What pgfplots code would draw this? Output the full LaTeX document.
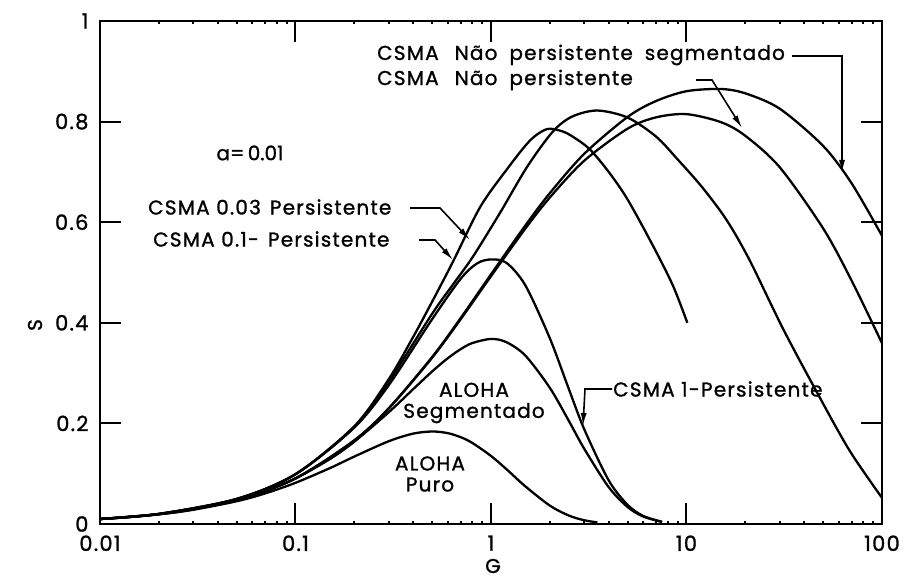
\documentclass[border=0pt]{standalone}
\usepackage{fontspec}
\setmainfont{Poppins}[LetterSpace=6, FakeBold=1.2]
\usepackage{pgfplots}
\pgfplotsset{compat=1.18}
\usetikzlibrary{arrows.meta}

\begin{document}
\begin{tikzpicture}[font=\fontsize{20}{24}\selectfont]
\useasboundingbox (-100pt,-56pt) rectangle (804pt,524pt);
\begin{axis}[
  scale only axis, width=782pt, height=503pt,
  at={(0pt,0pt)}, anchor=south west,
  xmode=log, xmin=0.01, xmax=100, ymin=0, ymax=1,
  xtick={0.01,0.1,1,10,100}, xticklabels={0.01,0.1,1,10,100},
  minor xtick={},
  ytick={0,0.2,0.4,0.6,0.8,1}, yticklabels={0,0.2,0.4,0.6,0.8,1},
  xtick pos=both, ytick pos=both,
  xticklabel pos=bottom, yticklabel pos=left,
  tick align=inside, major tick length=21pt,
  tick style={black, line width=2pt},
  axis line style={line width=2.6pt},
  /pgf/number format/assume math mode=true,
  ticklabel style={font=\fontsize{21}{24}\selectfont},
  xticklabel style={yshift=-8pt},
  yticklabel style={xshift=-8pt},
]
\pgfplotsset{cv/.style={black, line width=2.3pt, smooth, no markers}}
% ALOHA puro
\addplot[cv] coordinates {(0.01,0.0098)(0.02,0.0192)(0.03,0.0283)(0.05,0.0452)(0.07,0.0608)(0.1,0.0819)(0.15,0.1111)(0.2,0.1341)(0.3,0.1646)(0.4,0.1797)(0.5,0.1839)(0.6,0.1807)(0.7,0.1726)(0.8,0.1615)(1.0,0.1353)(1.2,0.1089)(1.5,0.0747)(2.0,0.0366)(2.5,0.0168)(3.0,0.0074)(3.5,0.0032)};
% ALOHA segmentado
\addplot[cv] coordinates {(0.01,0.0099)(0.02,0.0196)(0.03,0.0291)(0.05,0.0476)(0.07,0.0653)(0.1,0.0905)(0.15,0.1291)(0.2,0.1637)(0.3,0.2222)(0.4,0.2681)(0.5,0.3033)(0.6,0.3293)(0.7,0.3476)(0.8,0.3595)(1.0,0.3679)(1.2,0.3614)(1.5,0.3347)(2.0,0.2707)(2.5,0.2052)(3.0,0.1494)(4.0,0.0733)(5.0,0.0337)(6.0,0.0149)(7.5,0.0041)};
% CSMA 1-persistente
\addplot[cv] coordinates {(0.01,0.0100)(0.02,0.0200)(0.05,0.0498)(0.1,0.0989)(0.2,0.1921)(0.3,0.2760)(0.5,0.4072)(0.7,0.4876)(0.85,0.5182)(1,0.5260)(1.2,0.5192)(1.5,0.4742)(2,0.3692)(2.5,0.2686)(3,0.1882)(4,0.0867)(5,0.0380)(6,0.0161)(7.5,0.0043)};
% CSMA 0.1-persistente
\addplot[cv] coordinates {(0.01,0.0100)(0.02,0.0200)(0.05,0.0498)(0.1,0.0992)(0.2,0.1945)(0.3,0.2880)(0.4,0.3720)(0.5,0.4420)(0.64,0.5220)(0.88,0.6300)(1.2,0.7040)(1.58,0.7620)(1.93,0.7850)(2.3,0.7810)(2.62,0.7700)(3.2,0.7450)(4,0.7000)(5,0.6450)(6.7,0.5550)(8.5,0.4750)(10.1,0.4000)};
% CSMA 0.03-persistente
\addplot[cv] coordinates {(0.01,0.0100)(0.02,0.0200)(0.05,0.0497)(0.1,0.0988)(0.2,0.1925)(0.3,0.2830)(0.5,0.4180)(0.65,0.4800)(0.81,0.5320)(1.11,0.6180)(1.53,0.7100)(2.07,0.7800)(2.6,0.8100)(3.5,0.8220)(5,0.8080)(7,0.7700)(9,0.7250)(12,0.6700)(16,0.6050)(21,0.5250)(31,0.3900)(46,0.2650)(68,0.1470)(100,0.0520)};
% CSMA nao persistente
\addplot[cv] coordinates {(0.01,0.0099)(0.02,0.0196)(0.05,0.0476)(0.1,0.0907)(0.2,0.1661)(0.3,0.2296)(0.5,0.3306)(0.7,0.4072)(1,0.4926)(1.5,0.5875)(2,0.6491)(3,0.7223)(5,0.7860)(7,0.8085)(10,0.8148)(15,0.7989)(20,0.7717)(30,0.7091)(50,0.5877)(70,0.4835)(100,0.3594)};
% CSMA nao persistente segmentado
\addplot[cv] coordinates {(0.01,0.0099)(0.02,0.0196)(0.05,0.0476)(0.1,0.0908)(0.2,0.1664)(0.3,0.2302)(0.5,0.3320)(0.7,0.4095)(1,0.4963)(1.5,0.5937)(2,0.6578)(3,0.7360)(5,0.8093)(7,0.8410)(10,0.8604)(15,0.8648)(20,0.8561)(30,0.8256)(50,0.7516)(70,0.6771)(100,0.5729)};
\draw[line width=2.6pt] (rel axis cs:0,0) rectangle (rel axis cs:1,1);
\end{axis}
% axis labels
\node[rotate=90] at (-65pt,199pt) {S};
\node[anchor=base] at (393pt,-49pt) {G};
% annotations
\node[inner sep=0pt] at (150pt,371pt) {\addfontfeature{LetterSpace=0}a=\,0.01};
\node[anchor=west, inner sep=0pt] at (277pt,469pt) {CSMA\hspace{0.8em}Não\hspace{0.6em}persistente\hspace{0.6em}segmentado};
\node[anchor=west, inner sep=0pt] at (277pt,444pt) {CSMA\hspace{0.8em}Não\hspace{0.6em}persistente};
\node[anchor=west, inner sep=0pt] at (48pt,317pt) {CSMA 0.03\hspace{0.45em}Persistente};
\node[anchor=west, inner sep=0pt] at (53pt,285pt) {CSMA 0.1-\hspace{0.45em}Persistente};
\node[anchor=west, inner sep=0pt] at (513pt,135pt) {CSMA 1-Persistente};
\node[align=center, inner sep=0pt] at (374pt,121pt) {ALOHA\\[-3pt]Segmentado};
\node[align=center, inner sep=0pt] at (330pt,50pt) {ALOHA\\[-3pt]Puro};
\begin{scope}[line width=1.6pt, arrows={-{Latex[length=13pt,width=6pt]}}]
\draw (692pt,468pt) -- (742pt,468pt) -- (742pt,351pt);
\draw (596pt,444pt) -- (612pt,444pt) -- (642pt,396pt);
\draw (310pt,316pt) -- (340pt,316pt) -- (370pt,284pt);
\draw (319pt,284pt) -- (335pt,284pt) -- (353pt,264pt);
\draw (512pt,135pt) -- (485pt,135pt) -- (483pt,98pt);
\end{scope}
\end{tikzpicture}
\end{document}
